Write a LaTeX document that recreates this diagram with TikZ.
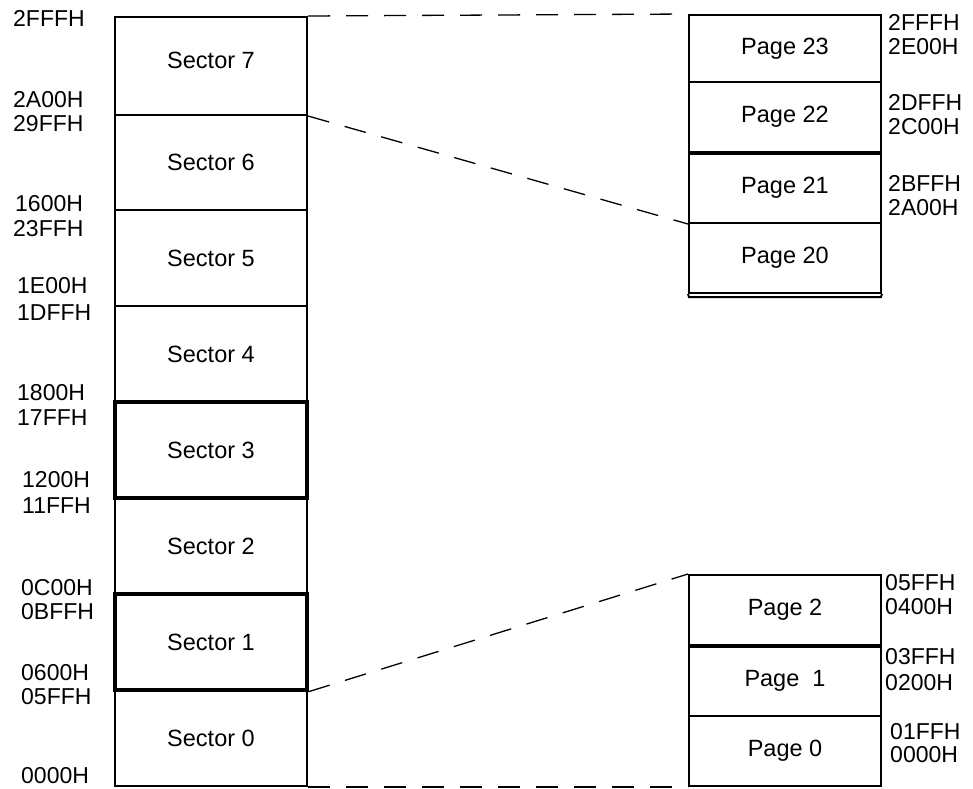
\documentclass[tikz,border=0pt]{standalone}
\usepackage{fontspec}
\setmainfont{Liberation Sans}
\begin{document}
\begin{tikzpicture}[x=1pt,y=-1pt,
  box/.style={draw, line width=2pt, minimum width=192pt, inner sep=0pt, font=\fontsize{23.5}{27}\selectfont},
  thickbox/.style={box, line width=3.3pt},
  addr/.style={anchor=west, inner sep=0pt, font=\fontsize{23}{27}\selectfont},
  link/.style={line width=1.3pt, dash pattern=on 22pt off 16pt}]
\useasboundingbox (0,0) rectangle (973,788);
% left column
\node[box, minimum height=98pt, text depth=12pt] (s7) at (211,66) {Sector 7};
\node[box, minimum height=95pt] (s6) at (211,162.5) {Sector 6};
\node[box, minimum height=96pt] (s5) at (211,258) {Sector 5};
\node[box, minimum height=96pt] (s4) at (211,354) {Sector 4};
\node[box, minimum height=96pt] (s2) at (211,546) {Sector 2};
\node[box, minimum height=96pt] (s0) at (211,738) {Sector 0};
\node[thickbox, minimum height=96pt] (s3) at (211,450) {Sector 3};
\node[thickbox, minimum height=96pt] (s1) at (211,642) {Sector 1};
% right top pages
\node[box, minimum height=67pt] (p23) at (785,48.5) {Page 23};
\node[box, minimum height=70pt] (p22) at (785,117) {Page 22};
\node[box, minimum height=71pt] (p20x) at (785,187.5) {};
\node[box, minimum height=70pt] (p20) at (785,258) {Page 20};
\node[box, minimum height=71pt, draw=none] (p21) at (785,187.5) {Page 21};
\draw[line width=3.3pt] (p22.south west) -- (p22.south east);
\coordinate (dblL) at (689,297);
\coordinate (dblR) at (881,297);
\draw[line width=2pt] (p20.south west) -- (dblL) -- (dblR) -- (p20.south east);
% right bottom pages
\node[box, minimum height=70pt] (p2) at (785,610) {Page 2};
\node[box, minimum height=71pt] (p1) at (785,680.5) {Page\ \ 1};
\node[box, minimum height=70pt] (p0) at (785,751) {Page 0};
\draw[line width=3pt] (p2.south west) -- (p2.south east);
% dashed links
\draw[link] (s7.north east) -- (p23.north west);
\draw[link] (s7.south east) -- (p20x.south west);
\draw[link] (s1.south east) -- (p2.north west);
\draw[link] (s0.south east) -- (p0.south west);
% left addresses
\node[addr] (a1) at (13,18) {2FFFH};
\node[addr] (a2) at (13,100) {2A00H};
\node[addr] (a3) at (13,124) {29FFH};
\node[addr] (a4) at (15,204) {1600H};
\node[addr] (a5) at (13,229) {23FFH};
\node[addr] (a6) at (17,286) {1E00H};
\node[addr] (a7) at (17,313) {1DFFH};
\node[addr] (a8) at (17,393) {1800H};
\node[addr] (a9) at (17,418) {17FFH};
\node[addr] (a10) at (22,480) {1200H};
\node[addr] (a11) at (22,506) {11FFH};
\node[addr] (a12) at (21,588) {0C00H};
\node[addr] (a13) at (21,612) {0BFFH};
\node[addr] (a14) at (21,673) {0600H};
\node[addr] (a15) at (21,697) {05FFH};
\node[addr] (a16) at (21,776) {0000H};
% right addresses
\node[addr] (b1) at (888,22) {2FFFH};
\node[addr] (b2) at (888,47) {2E00H};
\node[addr] (b3) at (888,102) {2DFFH};
\node[addr] (b4) at (888,127) {2C00H};
\node[addr] (b5) at (888,183) {2BFFH};
\node[addr] (b6) at (888,208) {2A00H};
\node[addr] (b7) at (885,583) {05FFH};
\node[addr] (b8) at (885,607) {0400H};
\node[addr] (b9) at (885,657) {03FFH};
\node[addr] (b10) at (885,683) {0200H};
\node[addr] (b11) at (890,732) {01FFH};
\node[addr] (b12) at (890,755) {0000H};
\end{tikzpicture}
\end{document}
